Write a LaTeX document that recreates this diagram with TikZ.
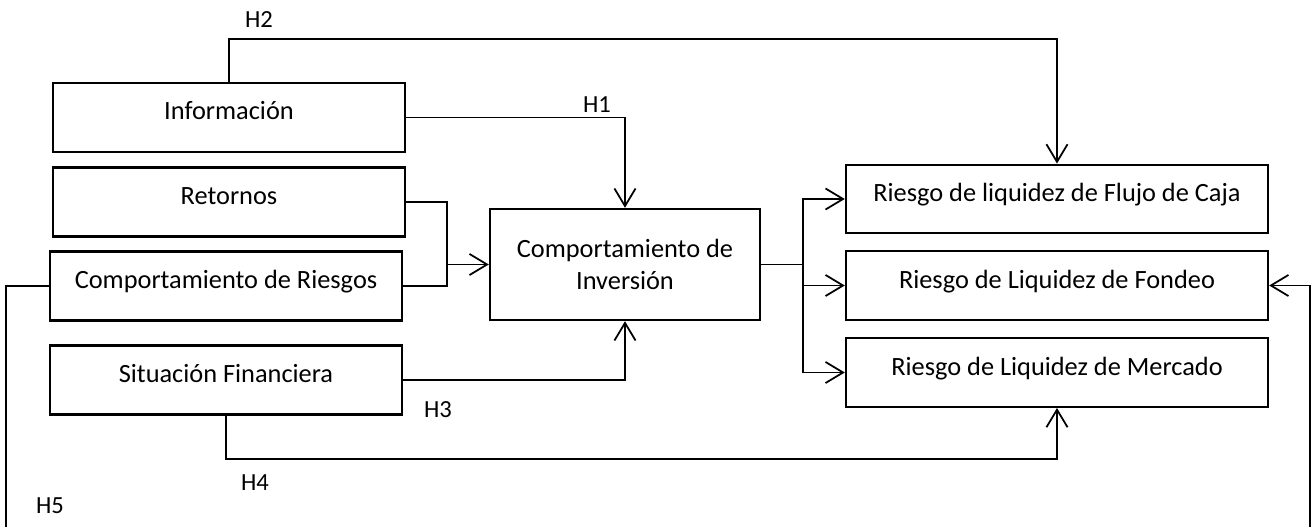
\documentclass[tikz,border=0pt]{standalone}
\usepackage{fontspec}
\setmainfont{Carlito}
\usetikzlibrary{arrows.meta}

\begin{document}
\begin{tikzpicture}[
  x=0.02cm,y=-0.02cm,
  >={Straight Barb[length=10pt,width=12pt]},
  var/.style={draw,line width=1.4pt,minimum height=1.38cm,text height=0.4cm,text depth=0.3cm,font=\fontsize{15pt}{18.5pt}\selectfont},
  leftvar/.style={var,minimum width=7.04cm},
  rightvar/.style={var,minimum width=8.44cm,minimum height=1.37cm},
  hyp/.style={font=\fontsize{14pt}{17pt}\selectfont},
  link/.style={line width=1pt}
]
\useasboundingbox (0,0) rectangle (1313,527);

\node[leftvar] (info) at (229,117.5) {Información};
\node[leftvar] (ret) at (229,202) {Retornos};
\node[leftvar] (ries) at (226,286) {Comportamiento de Riesgos};
\node[leftvar] (sit) at (226,380) {Situación Financiera};
\node[draw,line width=1.4pt,minimum width=5.4cm,minimum height=2.22cm,align=center,
  font=\fontsize{15pt}{18.5pt}\selectfont] (inv) at (625,264.5) {Comportamiento de\\Inversión};
\node[rightvar] (flujo) at (1057,199) {Riesgo de liquidez de Flujo de Caja};
\node[rightvar] (fondeo) at (1057,285.5) {Riesgo de Liquidez de Fondeo};
\node[rightvar] (merc) at (1057,372.5) {Riesgo de Liquidez de Mercado};

\node[hyp] (h1) at (597,105) {H1};
\node[hyp] (h2) at (259,20) {H2};
\node[hyp] (h3) at (438,410) {H3};
\node[hyp] (h4) at (255,483) {H4};
\node[hyp] (h5) at (50,506) {H5};

\coordinate (top) at (0,39);
\coordinate (low) at (0,459);
\coordinate (join) at (447,264.5);
\coordinate (fork) at (803,264.5);
\coordinate (h5l) at (6,545);
\coordinate (h5r) at (1310,545);

\draw[link,->] (info.north) -- (info.north |- top) -| (flujo.north);
\draw[link,->] (info.east) -| (inv.north);
\draw[link] (ret.east) -| (join);
\draw[link] (ries.east) -| (join);
\draw[link,->] (join) -- (inv.west);
\draw[link,->] (sit.east) -| (inv.south);
\draw[link,->] (sit.south) -- (sit.south |- low) -| (merc.south);
\draw[link] (inv.east) -- (fork);
\foreach \t in {flujo,fondeo,merc}
  \draw[link,->] (fork) |- (\t.west);
\draw[link,->] (ries.west) -| (h5l) -- (h5r) |- (fondeo.east);
\end{tikzpicture}
\end{document}
